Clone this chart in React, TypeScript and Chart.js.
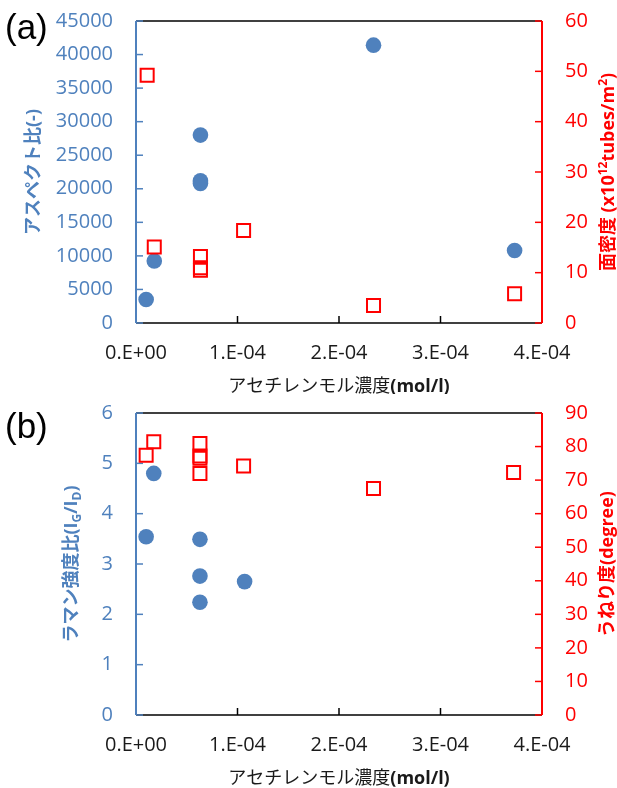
import React, { useEffect, useRef } from "react";
import { Chart, registerables } from "chart.js";
Chart.register(...registerables);

// ---- data ----
const xTickValues = [0, 1e-4, 2e-4, 3e-4, 4e-4];
const xTickLabels = ["0.E+00", "1.E-04", "2.E-04", "3.E-04", "4.E-04"];

// (a) aspect ratio (left axis) and areal density (right axis)
const aspectX = [1.0e-5, 1.8e-5, 6.35e-5, 6.35e-5, 6.35e-5, 2.34e-4, 3.73e-4];
const aspectY = [3500, 9250, 28000, 21200, 20800, 41400, 10800];
const densityX = [1.1e-5, 1.8e-5, 6.35e-5, 6.35e-5, 6.35e-5, 1.06e-4, 2.34e-4, 3.73e-4];
const densityY = [49.2, 15.1, 13.2, 11.0, 10.5, 18.4, 3.5, 5.8];

// (b) Raman ratio (left axis) and waviness (right axis)
const ramanX = [1.0e-5, 1.75e-5, 6.3e-5, 6.3e-5, 6.3e-5, 1.07e-4];
const ramanY = [3.54, 4.8, 3.49, 2.76, 2.24, 2.65];
const waveX = [1.0e-5, 1.75e-5, 6.3e-5, 6.3e-5, 6.3e-5, 6.3e-5, 1.06e-4, 2.34e-4, 3.72e-4];
const waveY = [77.4, 81.4, 80.9, 77.2, 76.5, 72.0, 74.2, 67.5, 72.3];

const BLUE = "#4F81BD";
const RED = "#FF0000";
const FONT = "'Open Sans', 'Noto Sans CJK JP', sans-serif";

type Seg = { t: string; b?: boolean; s?: "sup" | "sub" };

const xTitle: Seg[] = [{ t: "アセチレンモル濃度" }, { t: "(mol/l)", b: true }];

function drawRich(ctx: CanvasRenderingContext2D, segs: Seg[], cx: number, cy: number, rotate: boolean, color: string) {
  if (!segs) return;
  ctx.save();
  ctx.translate(cx, cy);
  if (rotate) ctx.rotate(-Math.PI / 2);
  ctx.fillStyle = color;
  ctx.textBaseline = "alphabetic";
  ctx.textAlign = "left";
  const fontOf = (sg: Seg) => `${sg.b ? "bold " : ""}${sg.s ? 12 : 18}px ${FONT}`;
  let total = 0;
  const widths = segs.map((sg) => {
    ctx.font = fontOf(sg);
    const w = ctx.measureText(sg.t).width;
    total += w;
    return w;
  });
  let x = -total / 2;
  const base = 6.5;
  segs.forEach((sg, i) => {
    ctx.font = fontOf(sg);
    const dy = sg.s === "sup" ? -7 : sg.s === "sub" ? 4 : 0;
    ctx.fillText(sg.t, x, base + dy);
    x += widths[i];
  });
  ctx.restore();
}

type Titles = { leftTitle: Seg[]; leftX: number; rightTitle: Seg[]; rightX: number };

function makeAxesPlugin(t: Titles) {
  return {
    id: "customAxes",
    beforeDatasetsDraw(chart: any) {
      const { ctx, chartArea: a, scales } = chart;
      const line = (x1: number, y1: number, x2: number, y2: number) => {
        ctx.beginPath();
        ctx.moveTo(x1, y1);
        ctx.lineTo(x2, y2);
        ctx.stroke();
      };
      ctx.save();
      ctx.strokeStyle = "#000";
      ctx.lineWidth = 1.5;
      line(a.left, a.top, a.right, a.top);
      line(a.left, a.bottom, a.right, a.bottom);
      scales.x.ticks.forEach((tk: any) => {
        const px = scales.x.getPixelForValue(tk.value);
        line(px, a.bottom, px, a.bottom - 7);
      });
      ctx.strokeStyle = BLUE;
      ctx.lineWidth = 2;
      line(a.left, a.top, a.left, a.bottom);
      ctx.lineWidth = 1.5;
      scales.y.ticks.forEach((tk: any) => {
        const py = scales.y.getPixelForValue(tk.value);
        line(a.left, py, a.left + 7, py);
      });
      ctx.strokeStyle = RED;
      ctx.lineWidth = 2;
      line(a.right, a.top, a.right, a.bottom);
      ctx.lineWidth = 1.5;
      scales.y1.ticks.forEach((tk: any) => {
        const py = scales.y1.getPixelForValue(tk.value);
        line(a.right, py, a.right - 7, py);
      });
      ctx.restore();
    },
    afterDraw(chart: any) {
      const { ctx, chartArea: a } = chart;
      const cy = (a.top + a.bottom) / 2;
      drawRich(ctx, t.leftTitle, t.leftX, cy, true, BLUE);
      drawRich(ctx, t.rightTitle, t.rightX, cy, true, RED);
      drawRich(ctx, xTitle, (a.left + a.right) / 2, a.bottom + 62, false, "#1a1a1a");
    },
  };
}

function makeConfig(p: {
  leftData: { x: number; y: number }[];
  rightData: { x: number; y: number }[];
  yMax: number;
  yStep: number;
  y1Max: number;
  y1Step: number;
  xAxisHeight: number;
  padTop: number;
  titles: Titles;
}) {
  const vFit = (w: number) => (s: any) => {
    s.width = w;
    s.paddingTop = 0;
    s.paddingBottom = 0;
  };
  return {
    type: "scatter",
    data: {
      datasets: [
        {
          data: p.rightData,
          yAxisID: "y1",
          pointStyle: "rect",
          pointRadius: 9.2,
          borderColor: RED,
          borderWidth: 2,
          backgroundColor: "rgba(0,0,0,0)",
          order: 0,
        },
        {
          data: p.leftData,
          yAxisID: "y",
          pointStyle: "circle",
          pointRadius: 7.8,
          borderWidth: 0,
          borderColor: BLUE,
          backgroundColor: BLUE,
          order: 1,
        },
      ],
    },
    options: {
      animation: false,
      responsive: false,
      events: [],
      layout: { padding: { top: p.padTop, left: 0, right: 0, bottom: 0 } },
      plugins: {
        legend: { display: false },
        tooltip: { enabled: false },
      },
      scales: {
        x: {
          type: "linear",
          min: 0,
          max: 4e-4,
          afterBuildTicks: (s: any) => {
            s.ticks = xTickValues.map((v) => ({ value: v }));
          },
          afterFit: (s: any) => {
            s.height = p.xAxisHeight;
            s.paddingLeft = 0;
            s.paddingRight = 0;
          },
          grid: { display: false, drawTicks: false, tickLength: 0 },
          border: { display: false },
          ticks: {
            padding: 18,
            color: "#1a1a1a",
            font: { family: FONT, size: 20 },
            maxRotation: 0,
            autoSkip: false,
            callback: (_v: any, i: number) => xTickLabels[i],
          },
        },
        y: {
          type: "linear",
          position: "left",
          min: 0,
          max: p.yMax,
          afterFit: vFit(136),
          grid: { display: false, drawTicks: false, tickLength: 0 },
          border: { display: false },
          ticks: {
            stepSize: p.yStep,
            padding: 23,
            color: BLUE,
            font: { family: FONT, size: 20 },
            callback: (v: any) => String(v),
          },
        },
        y1: {
          type: "linear",
          position: "right",
          min: 0,
          max: p.y1Max,
          afterFit: vFit(75),
          grid: { display: false, drawTicks: false, tickLength: 0 },
          border: { display: false },
          ticks: {
            stepSize: p.y1Step,
            padding: 23,
            color: RED,
            font: { family: FONT, size: 20 },
            callback: (v: any) => String(v),
          },
        },
      },
    },
    plugins: [makeAxesPlugin(p.titles)],
  } as any;
}

function zip(xs: number[], ys: number[]) {
  return xs.map((x, i) => ({ x, y: ys[i] }));
}

function ChartCanvas({ config, height }: { config: any; height: number }) {
  const ref = useRef<HTMLCanvasElement | null>(null);
  useEffect(() => {
    if (!ref.current) return;
    const c = new Chart(ref.current, config);
    return () => c.destroy();
  }, []);
  return <canvas ref={ref} width={617} height={height} style={{ display: "block", width: 617, height }} />;
}

export default function App() {
  const cfgA = makeConfig({
    leftData: zip(aspectX, aspectY),
    rightData: zip(densityX, densityY),
    yMax: 45000,
    yStep: 5000,
    y1Max: 60,
    y1Step: 10,
    xAxisHeight: 71,
    padTop: 21,
    titles: {
      leftTitle: [{ t: "アスペクト比(-)", b: true }],
      leftX: 32,
      rightTitle: [
        { t: "面密度 (x10", b: true },
        { t: "12", b: true, s: "sup" },
        { t: "tubes/m", b: true },
        { t: "2", b: true, s: "sup" },
        { t: ")", b: true },
      ],
      rightX: 607,
    },
  });
  const cfgB = makeConfig({
    leftData: zip(ramanX, ramanY),
    rightData: zip(waveX, waveY),
    yMax: 6,
    yStep: 1,
    y1Max: 90,
    y1Step: 10,
    xAxisHeight: 73,
    padTop: 19,
    titles: {
      leftTitle: [
        { t: "ラマン強度比(I", b: true },
        { t: "G", b: true, s: "sub" },
        { t: "/I", b: true },
        { t: "D", b: true, s: "sub" },
        { t: ")", b: true },
      ],
      leftX: 70,
      rightTitle: [{ t: "うねり度(degree)", b: true }],
      rightX: 606,
    },
  });
  const labelStyle: React.CSSProperties = {
    position: "absolute",
    left: 5,
    fontFamily: "'Liberation Sans', Arial, sans-serif",
    fontSize: 35,
    lineHeight: 1,
    color: "#000",
  };
  return (
    <div style={{ position: "absolute", left: 0, top: 0, width: 617, height: 788, background: "#fff" }}>
      <div style={{ position: "absolute", left: 0, top: 0 }}>
        <ChartCanvas config={cfgA} height={394} />
      </div>
      <div style={{ position: "absolute", left: 0, top: 394 }}>
        <ChartCanvas config={cfgB} height={394} />
      </div>
      <div style={{ ...labelStyle, top: 9 }}>(a)</div>
      <div style={{ ...labelStyle, top: 408 }}>(b)</div>
    </div>
  );
}
